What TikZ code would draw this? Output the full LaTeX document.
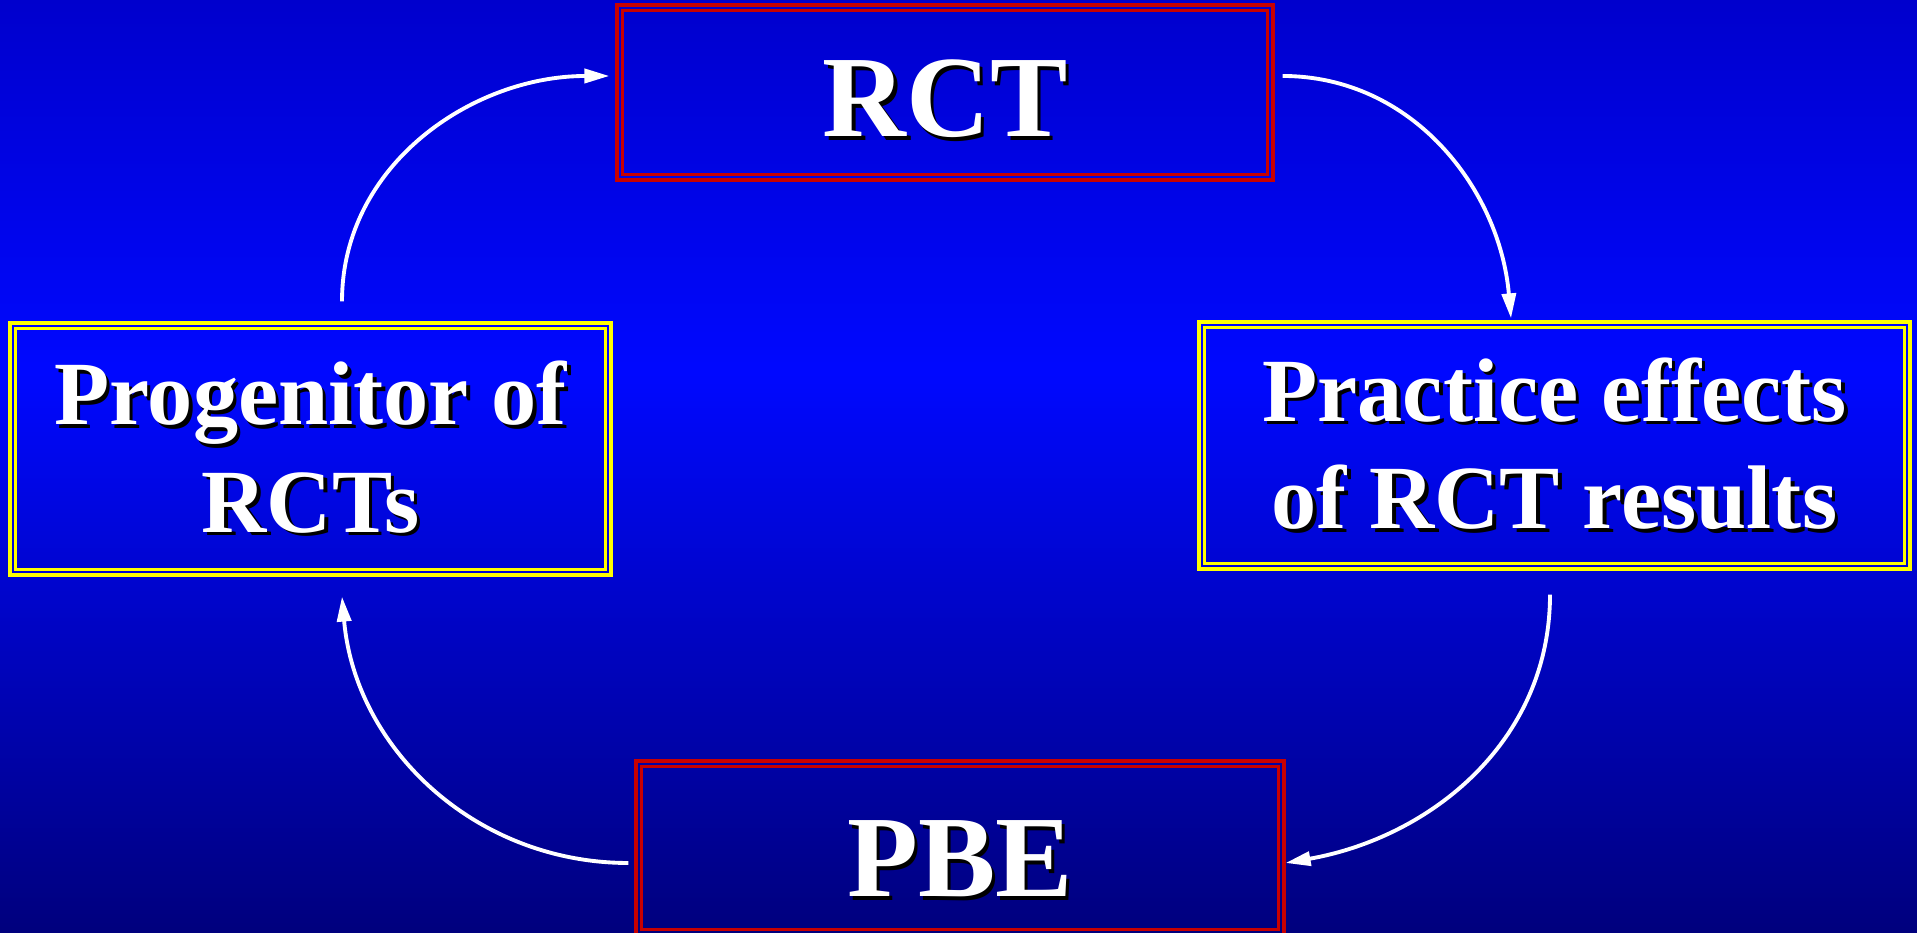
\documentclass[tikz,border=0pt]{standalone}
\usepackage{fontspec}
\setmainfont{Liberation Serif}
\usepackage{tikz}
\usetikzlibrary{arrows.meta,calc}
\definecolor{bgTop}{RGB}{0,0,205}
\definecolor{bgMid}{RGB}{0,8,255}
\definecolor{bgBot}{RGB}{0,0,125}
\definecolor{boxRed}{RGB}{200,0,0}
\definecolor{boxYellow}{RGB}{255,255,0}
\newcommand{\shadowed}[1]{\leavevmode\rlap{\kern1pt\raisebox{-1pt}{\color{black}#1}}#1}

\begin{document}
\begin{tikzpicture}[
  cyc/.style={draw=white, line width=1.1pt, -{Triangle[length=0.25cm,width=0.14cm]}},
  framebox/.style={draw, line width=0.9pt, inner sep=0pt, text=white, align=center},
  redbox/.style={framebox, draw=boxRed, text depth=0cm, font=\fontsize{33}{40}\selectfont\bfseries},
  yellowbox/.style={framebox, draw=boxYellow, font=\fontsize{25.7}{30.6}\selectfont\bfseries}
]
  % background
  \shade[top color=bgTop, bottom color=bgMid] (0,5.6) rectangle (19.17,9.33);
  \shade[top color=bgMid, bottom color=bgBot] (0,0) rectangle (19.17,5.6);
  \useasboundingbox (0,0) rectangle (19.17,9.33);

  \node[redbox, text height=0.88cm, minimum width=6.56cm, minimum height=1.75cm] (rct) at (9.45,8.405) {\shadowed{RCT}};
  \node[yellowbox, minimum width=6.01cm, minimum height=2.52cm] (prog) at (3.105,4.84) {\shadowed{Progenitor of}\\ \shadowed{RCTs}};
  \node[yellowbox, minimum width=7.11cm, minimum height=2.47cm] (prac) at (15.545,4.875) {\shadowed{Practice effects}\\ \shadowed{of RCT results}};
  \node[redbox, text height=0.97cm, minimum width=6.48cm, minimum height=1.74cm] (pbe) at (9.60,0.85) {\shadowed{PBE}};

  \foreach \n/\c in {rct/boxRed, pbe/boxRed, prog/boxYellow, prac/boxYellow}
    \draw[\c, line width=0.9pt] ([shift={(0.07,0.07)}]\n.south west) rectangle ([shift={(-0.07,-0.07)}]\n.north east);

  \draw[cyc] ([shift={(0.315,0.20)}]prog.north) to[out=90, in=180] ([shift={(-0.06,0.165)}]rct.west);
  \draw[cyc] ([shift={(0.08,0.165)}]rct.east) to[out=0, in=95] ([shift={(-0.435,0.02)}]prac.north);
  \draw[cyc] ([shift={(-0.045,-0.24)}]prac.south) to[out=-90, in=10] ([shift={(0,-0.15)}]pbe.east);
  \draw[cyc] ([shift={(-0.06,-0.15)}]pbe.west) to[out=180, in=-85] ([shift={(0.315,-0.20)}]prog.south);
\end{tikzpicture}
\end{document}
